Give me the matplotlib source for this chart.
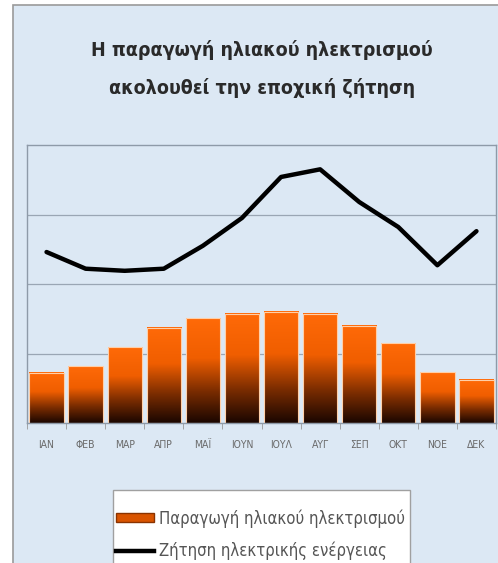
import numpy as np
import matplotlib.pyplot as plt
from matplotlib import font_manager
from matplotlib.colors import LinearSegmentedColormap
from matplotlib.patches import Rectangle, Patch
from matplotlib.lines import Line2D

months = ['ΙΑΝ', 'ΦΕΒ', 'ΜΑΡ', 'ΑΠΡ', 'ΜΑΪ', 'ΙΟΥΝ', 'ΙΟΥΛ', 'ΑΥΓ', 'ΣΕΠ', 'ΟΚΤ', 'ΝΟΕ', 'ΔΕΚ']
solar = [0.72, 0.82, 1.09, 1.37, 1.51, 1.57, 1.60, 1.57, 1.40, 1.15, 0.73, 0.62]
demand = [2.46, 2.22, 2.19, 2.22, 2.55, 2.95, 3.54, 3.65, 3.18, 2.82, 2.27, 2.76]

title = 'Η παραγωγή ηλιακού ηλεκτρισμού\nακολουθεί την εποχική ζήτηση'
solar_label = 'Παραγωγή ηλιακού ηλεκτρισμού'
demand_label = 'Ζήτηση ηλεκτρικής ενέργειας'

# pick a narrow face if one is around
fp = font_manager.FontProperties(family='DejaVu Sans', stretch='condensed')
condensed = 'condensed' in font_manager.findfont(fp).lower()
font = dict(family='DejaVu Sans', stretch='condensed')
bg = '#dce8f4'

fig = plt.figure(figsize=(4.98, 5.63), dpi=100)
fig.patch.set_facecolor('white')
W, H = 498, 563

# outer chart frame (runs off the right and bottom edges)
fig.patches.append(Rectangle((13 / W, -0.1), 1.1, 1.1 - 5 / H,
                             transform=fig.transFigure, facecolor=bg,
                             edgecolor='#9a9a9a', linewidth=1.2, zorder=-1))

ax = fig.add_axes([27 / W, 1 - 423 / H, 469 / W, 278 / H])
ax.set_facecolor(bg)

x = np.arange(len(months))

ax.set_yticks([1, 2, 3])
ax.yaxis.grid(True, color='#9aa6b4', linewidth=0.9)
ax.tick_params(axis='y', length=0, labelleft=False)
ax.set_axisbelow(True)

# bars with a vertical orange-to-dark gradient
cmap = LinearSegmentedColormap.from_list(
    'sun', [(0, '#1a0600'), (0.3, '#7a2c00'), (0.62, '#f05e00'), (1, '#ff6a08')])
grad = np.linspace(0, 1, 256).reshape(-1, 1)
width = 0.88
bars = ax.bar(x, solar, width=width, color='none', edgecolor='#ffcfa8', linewidth=0.8, zorder=2)
for b in bars:
    x0, h = b.get_x(), b.get_height()
    ax.imshow(grad, extent=(x0, x0 + width, 0, h), origin='lower', cmap=cmap,
              aspect='auto', zorder=1.5)
ax.set_xlim(-0.5, len(months) - 0.5)
ax.set_ylim(0, 4)

ax.plot(x, demand, color='black', linewidth=3.2, solid_joinstyle='round',
        solid_capstyle='round', zorder=3)

ax.set_xticks(x)
ax.set_xticklabels(months, fontsize=7.5 if condensed else 6, color='#6a6a6a', **font)
ax.tick_params(axis='x', which='major', length=0, pad=12)
ax.set_xticks(np.arange(-0.5, len(months)), minor=True)
ax.tick_params(axis='x', which='minor', length=4, color='#999999', direction='out')

for s in ax.spines.values():
    s.set_color('#8e9aa8')
    s.set_linewidth(1.0)

fig.text(0.526, 1 - 69 / H, title, ha='center', va='center',
         fontweight='bold', fontsize=14 if condensed else 12.5, color='#2a2a2a',
         linespacing=2.15, **font)

# legend box, drawn separately so it can run off the bottom
fig.patches.append(Rectangle((113 / W, -0.1), 297 / W, 0.1 + 1 - 490 / H,
                             transform=fig.transFigure, facecolor='white',
                             edgecolor='#a0a0a0', linewidth=1.0, zorder=1))
handles = [Patch(facecolor='#d95400', edgecolor='#8a3300'),
           Line2D([0], [0], color='black', linewidth=3.2)]
leg = fig.legend(handles, [solar_label, demand_label], loc='upper left',
                 bbox_to_anchor=(116 / W, 1 - 509 / H), frameon=False,
                 prop=dict(size=12 if condensed else 10.5, **font),
                 labelcolor='#555555',
                 handlelength=2.3, handleheight=0.5, handletextpad=0.3,
                 labelspacing=0.85, borderpad=0, borderaxespad=0)
leg.set_zorder(2)

fig.savefig('out.png', dpi=100)
